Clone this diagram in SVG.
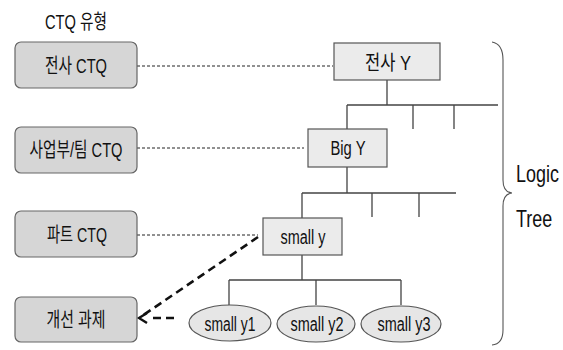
<svg xmlns="http://www.w3.org/2000/svg" width="563" height="350" viewBox="0 0 563 350">
  <style>
    text { font-family: "Liberation Sans", "Noto Sans CJK KR", sans-serif; font-size: 20px; fill: #111; }
    .mid { text-anchor: middle; }
    .ctq { fill: #d6d6d6; stroke: #666; stroke-width: 1.2; }
    .ybox { fill: #ebebeb; stroke: #555; stroke-width: 1.2; }
    .leaf { fill: #e6e6e6; stroke: #555; stroke-width: 1.2; }
    .tree { fill: none; stroke: #444; stroke-width: 1.3; }
    .dot { fill: none; stroke: #222; stroke-width: 1; stroke-dasharray: 3 2; }
    .thick { fill: none; stroke: #111; stroke-width: 2.6; stroke-dasharray: 8 5; }
    .brace { fill: none; stroke: #555; stroke-width: 1.1; }
    .big { font-size: 23px; }
  </style>
  <rect width="563" height="350" fill="#ffffff"/>

  <text id="title" x="76" y="29" class="mid" textLength="62" lengthAdjust="spacingAndGlyphs">CTQ 유형</text>

  <g id="connectors">
    <!-- CTQ level to tree node links -->
    <line class="dot" x1="137" y1="66" x2="333" y2="66"/>
    <line class="dot" x1="137" y1="148" x2="304" y2="148"/>
    <line class="dot" x1="137" y1="235" x2="258" y2="235"/>
    <!-- improvement task links -->
    <line class="thick" x1="258" y1="237" x2="142" y2="316"/>
    <path class="thick" d="M174,318 H148" stroke-dasharray="8 5 13"/>
    <path d="M147,313 L139,318 L147,323" fill="none" stroke="#111" stroke-width="2.4"/>
    <!-- level 1 branches -->
    <path class="tree" d="M387,80 V105 M347,105 H498 M347,105 V129 M413,105 V129 M454,105 V129" stroke-width="1.6"/>
    <!-- level 2 branches -->
    <path class="tree" d="M347,167 V193 M302,193 H456 M302,193 V218 M372,193 V217 M419,193 V217"/>
    <!-- level 3 branches -->
    <path class="tree" d="M302,255 V280 M229,280 H401 M229,280 V305 M316,280 V305 M401,280 V305"/>
    <!-- logic tree brace -->
    <path class="brace" d="M492,42 Q503,44 503,60 V180 Q503,192 512,193 Q503,194 503,206 V330 Q503,344 492,345"/>
  </g>

  <g id="ctq-company">
    <rect class="ctq" x="15" y="42" width="122" height="46" rx="6"/>
    <text x="76" y="73" class="mid" textLength="62" lengthAdjust="spacingAndGlyphs">전사 CTQ</text>
  </g>
  <g id="ctq-division">
    <rect class="ctq" x="15" y="127" width="122" height="46" rx="6"/>
    <text x="76" y="157" class="mid" textLength="93" lengthAdjust="spacingAndGlyphs">사업부/팀 CTQ</text>
  </g>
  <g id="ctq-part">
    <rect class="ctq" x="15" y="211" width="122" height="46" rx="6"/>
    <text x="77" y="242" class="mid" textLength="60" lengthAdjust="spacingAndGlyphs">파트 CTQ</text>
  </g>
  <g id="ctq-task">
    <rect class="ctq" x="15" y="297" width="122" height="45" rx="6"/>
    <text x="76" y="327" class="mid" textLength="59" lengthAdjust="spacingAndGlyphs">개선 과제</text>
  </g>

  <g id="y-company">
    <rect class="ybox" x="334" y="43" width="106" height="37"/>
    <text x="388" y="70" class="mid" textLength="46" lengthAdjust="spacingAndGlyphs">전사 Y</text>
  </g>
  <g id="y-big">
    <rect class="ybox" x="308" y="129" width="79" height="38"/>
    <text x="348" y="155" class="mid" textLength="35" lengthAdjust="spacingAndGlyphs">Big Y</text>
  </g>
  <g id="y-small">
    <rect class="ybox" x="263" y="218" width="79" height="37"/>
    <text x="303" y="244" class="mid" textLength="45" lengthAdjust="spacingAndGlyphs">small y</text>
  </g>

  <g id="y1">
    <ellipse class="leaf" cx="230" cy="323" rx="41" ry="18"/>
    <text x="230" y="331" class="mid" textLength="51" lengthAdjust="spacingAndGlyphs">small y1</text>
  </g>
  <g id="y2">
    <ellipse class="leaf" cx="316" cy="324" rx="39" ry="18"/>
    <text x="317" y="331" class="mid" textLength="53" lengthAdjust="spacingAndGlyphs">small y2</text>
  </g>
  <g id="y3">
    <ellipse class="leaf" cx="401" cy="324" rx="40" ry="18"/>
    <text x="404" y="331" class="mid" textLength="53" lengthAdjust="spacingAndGlyphs">small y3</text>
  </g>

  <g id="logic-tree-label">
    <text class="big" transform="translate(516,182) scale(0.78,1)">Logic</text>
    <text class="big" transform="translate(516,227) scale(0.78,1)">Tree</text>
  </g>
</svg>
